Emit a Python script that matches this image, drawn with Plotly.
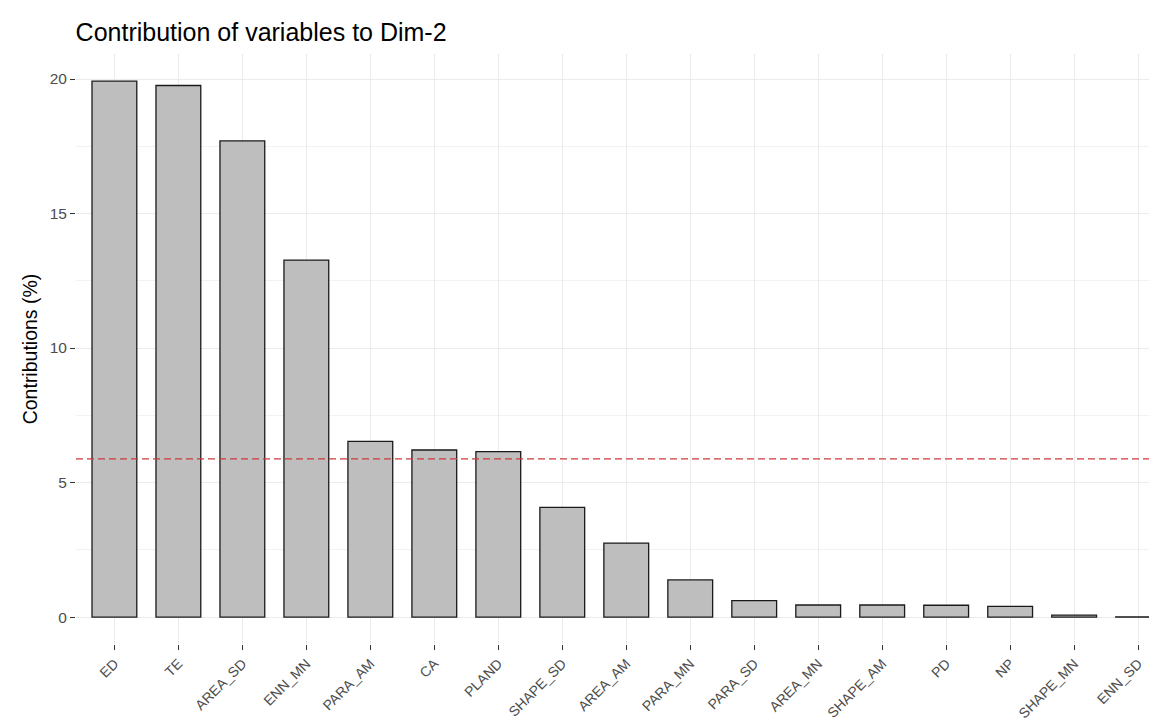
import plotly.graph_objects as go

variables = ["ED", "TE", "AREA_SD", "ENN_MN", "PARA_AM", "CA", "PLAND", "SHAPE_SD",
             "AREA_AM", "PARA_MN", "PARA_SD", "AREA_MN", "SHAPE_AM", "PD", "NP",
             "SHAPE_MN", "ENN_SD"]
contributions = [19.92, 19.76, 17.70, 13.27, 6.53, 6.21, 6.15, 4.08,
                 2.75, 1.38, 0.61, 0.45, 0.45, 0.44, 0.40, 0.07, 0.01]
expected = 100 / len(variables)
y_ticks = [0, 5, 10, 15, 20]

W, H = 1157, 721
L, T, B = 67.6, 46, 85

fig = go.Figure()
fig.add_trace(go.Bar(
    x=variables, y=contributions, width=0.7,
    marker=dict(color="#BEBEBE", line=dict(color="#1a1a1a", width=1.3)),
    showlegend=False,
))

fig.add_shape(type="line", xref="paper", yref="y", x0=0, x1=1,
              y0=expected, y1=expected,
              line=dict(color="#CC3A3A", width=1.3, dash="7px,4px"), layer="above")

fig.update_layout(
    width=W, height=H,
    margin=dict(l=L, r=0, t=T, b=B, pad=0, autoexpand=False),
    paper_bgcolor="white", plot_bgcolor="white",
    font=dict(family="Liberation Sans, Arial, sans-serif", color="#4D4D4D"),
    title=dict(text="Contribution of variables to Dim-2",
               font=dict(size=25, color="black"),
               x=L / W, xanchor="left", xref="container",
               y=1 - 24 / H, yanchor="middle", yref="container",
               automargin=False),
    bargap=0.3,
)

fig.update_xaxes(
    range=[-0.6, 16.42], showgrid=True, gridcolor="#EBEBEB", gridwidth=1.2,
    tickangle=-45, tickfont=dict(size=14, color="#4D4D4D"),
    ticks="outside", ticklen=5, tickcolor="#333333", tickwidth=1.2,
    showline=False, zeroline=False, automargin=False,
)
fig.update_yaxes(
    range=[-1.0, 20.93], tickvals=y_ticks, ticktext=[str(v) for v in y_ticks],
    showgrid=True, gridcolor="#EBEBEB", gridwidth=1.2,
    minor=dict(tickvals=[2.5, 7.5, 12.5, 17.5], showgrid=True,
               gridcolor="#F2F2F2", gridwidth=0.8),
    tickfont=dict(size=15.5, color="#4D4D4D"),
    ticks="outside", ticklen=5, tickcolor="#333333", tickwidth=1.2,
    title=dict(text="Contributions (%)", font=dict(size=19.5, color="black"), standoff=6),
    showline=False, zeroline=False, automargin=False,
)

fig.write_html("out.html")
